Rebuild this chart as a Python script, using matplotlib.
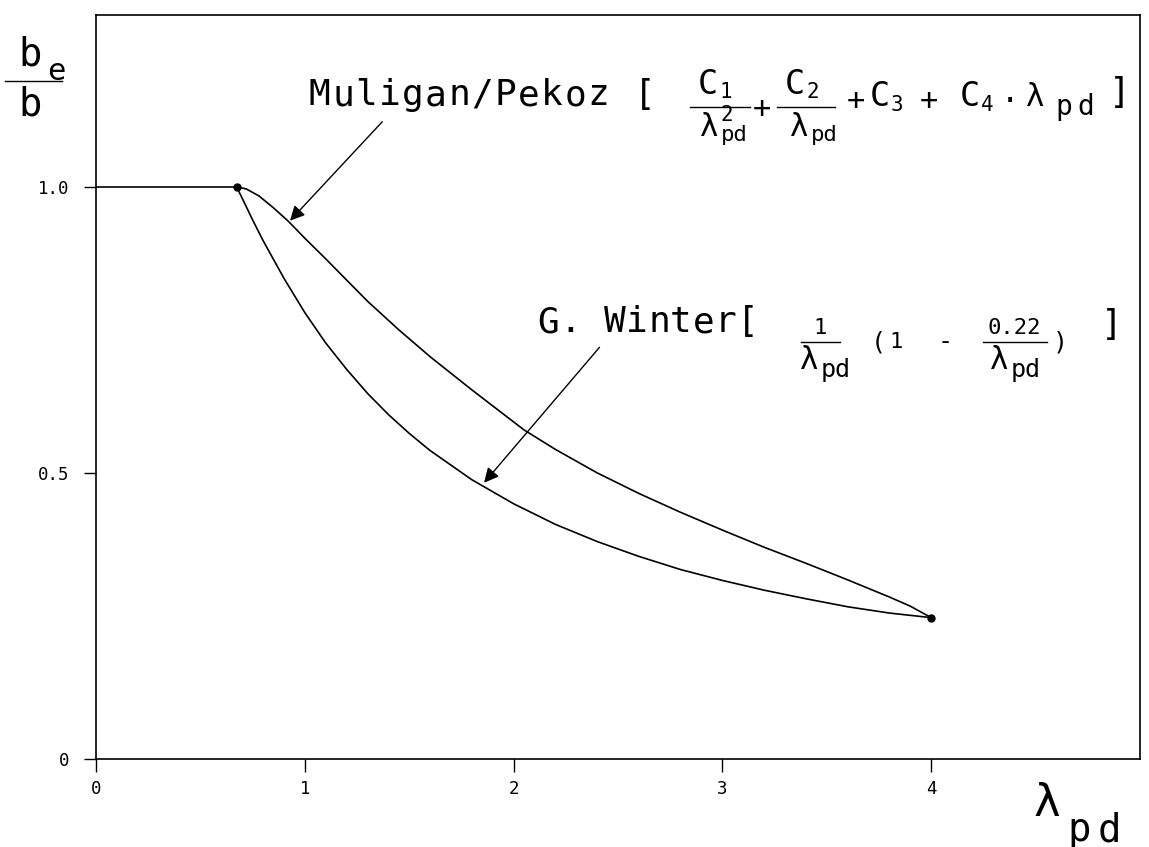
import matplotlib
matplotlib.use('Agg')
import matplotlib.pyplot as plt
from matplotlib.lines import Line2D

# data
lam_plateau = [0.0, 0.673]
rho_plateau = [1.0, 1.0]

# G. Winter curve
lam_winter = [0.673, 0.7, 0.75, 0.8, 0.9, 1.0, 1.1, 1.2, 1.3, 1.4, 1.5, 1.6, 1.8,
              2.0, 2.2, 2.4, 2.6, 2.8, 3.0, 3.2, 3.4, 3.6, 3.8, 4.0]
rho_winter = [1.0, 0.98, 0.942, 0.906, 0.84, 0.78, 0.727, 0.681, 0.639, 0.602, 0.569, 0.539, 0.488,
              0.446, 0.41, 0.38, 0.354, 0.331, 0.312, 0.295, 0.28, 0.266, 0.255, 0.247]

# Muligan/Pekoz curve
lam_pekoz = [0.673, 0.72, 0.78, 0.85, 0.92, 1.0, 1.1, 1.2, 1.3, 1.45, 1.6, 1.8, 2.05, 2.2,
             2.4, 2.6, 2.8, 3.0, 3.2, 3.4, 3.6, 3.8, 3.9, 4.0]
rho_pekoz = [1.0, 0.996, 0.984, 0.963, 0.94, 0.91, 0.874, 0.837, 0.80, 0.75, 0.703, 0.645, 0.575, 0.541,
             0.50, 0.464, 0.431, 0.40, 0.37, 0.342, 0.313, 0.283, 0.267, 0.247]

end_pts_x = [0.673, 4.0]
end_pts_y = [1.0, 0.247]

xticks = [0, 1, 2, 3, 4]
yticks = [0, 0.5, 1.0]
ytick_labels = ['0', '0.5', '1.0']

W, H = 1149, 847
mono = 'DejaVu Sans Mono'
plt.rcParams['font.family'] = mono

fig = plt.figure(figsize=(W / 100, H / 100), dpi=100)
ax = fig.add_axes([96 / W, 1 - 759 / H, (1140 - 96) / W, (759 - 15) / H])

ax.plot(lam_plateau, rho_plateau, color='k', lw=1.2)
ax.plot(lam_winter, rho_winter, color='k', lw=1.2)
ax.plot(lam_pekoz, rho_pekoz, color='k', lw=1.2)
ax.plot(end_pts_x, end_pts_y, 'o', color='k', ms=5)

ax.set_xlim(0, 5)
ax.set_ylim(0, 1.3)
ax.set_xticks(xticks)
ax.set_yticks(yticks)
ax.set_yticklabels(ytick_labels)
ax.tick_params(direction='out', length=9, width=1, labelsize=12.5, pad=6)
ax.tick_params(axis='y', pad=10)
for s in ax.spines.values():
    s.set_linewidth(1.2)

# arrows
ax.annotate('', xy=(0.92, 0.937), xytext=(1.38, 1.117),
            arrowprops=dict(arrowstyle='-|>', color='k', lw=1, mutation_scale=22))
ax.annotate('', xy=(1.85, 0.479), xytext=(2.42, 0.723),
            arrowprops=dict(arrowstyle='-|>', color='k', lw=1, mutation_scale=22))


def put(px, py, s, size, ha='left'):
    fig.text(px / W, 1 - py / H, s, fontsize=size, ha=ha, va='center', family=mono)


def spaced(px, py, s, size, step):
    # plotter style lettering: one glyph per fixed step
    for i, ch in enumerate(s):
        if ch != ' ':
            put(px + i * step, py, ch, size)


def bar(x0, x1, py):
    fig.add_artist(Line2D([x0 / W, x1 / W], [1 - py / H] * 2,
                          transform=fig.transFigure, color='k', lw=1))


# y label  b_e / b
put(30, 55, 'b', 28, ha='center')
put(47, 72, 'e', 22)
bar(5, 62, 81)
put(30, 104, 'b', 28, ha='center')

# x label  lambda_pd
put(1047, 803, 'λ', 32, ha='center')
spaced(1067, 830, 'pd', 28, 31)

# Muligan/Pekoz formula
Ym = 95
spaced(309, Ym, 'Muligan/Pekoz [', 26, 23.2)
put(698, Ym - 10, 'C', 24)
put(719, Ym - 3, '1', 15)
bar(690, 750, Ym + 12)
put(700, Ym + 32, 'λ', 22)
put(721, Ym + 20, '2', 15)
put(721, Ym + 40, 'pd', 16)
put(762, Ym + 14, '+', 22, ha='center')
put(785, Ym - 10, 'C', 24)
put(806, Ym - 3, '2', 15)
bar(777, 835, Ym + 12)
put(790, Ym + 32, 'λ', 22)
put(811, Ym + 40, 'pd', 16)
put(856, Ym + 6, '+', 22, ha='center')
put(870, Ym + 2, 'C', 24)
put(891, Ym + 10, '3', 15)
put(929, Ym + 6, '+', 22, ha='center')
put(960, Ym + 2, 'C', 24)
put(981, Ym + 10, '4', 15)
put(1010, Ym + 6, '·', 22, ha='center')
put(1026, Ym + 2, 'λ', 22)
spaced(1055, Ym + 12, 'pd', 20, 22)
put(1120, Ym - 2, ']', 26, ha='center')

# G. Winter formula
Yc = 322
spaced(537, Yc, 'G. Winter[', 26, 22.2)
put(820, Yc + 6, '1', 16, ha='center')
bar(801, 840, Yc + 20)
put(800, Yc + 38, 'λ', 22)
put(821, Yc + 48, 'pd', 18)
put(878, Yc + 20, '(', 18, ha='center')
put(896, Yc + 20, '1', 16, ha='center')
put(945, Yc + 20, '-', 18, ha='center')
put(1014, Yc + 6, '0.22', 16, ha='center')
bar(983, 1047, Yc + 20)
put(990, Yc + 38, 'λ', 22)
put(1011, Yc + 48, 'pd', 18)
put(1060, Yc + 20, ')', 18, ha='center')
put(1112, Yc + 3, ']', 26, ha='center')

fig.savefig('out.png', dpi=100)
